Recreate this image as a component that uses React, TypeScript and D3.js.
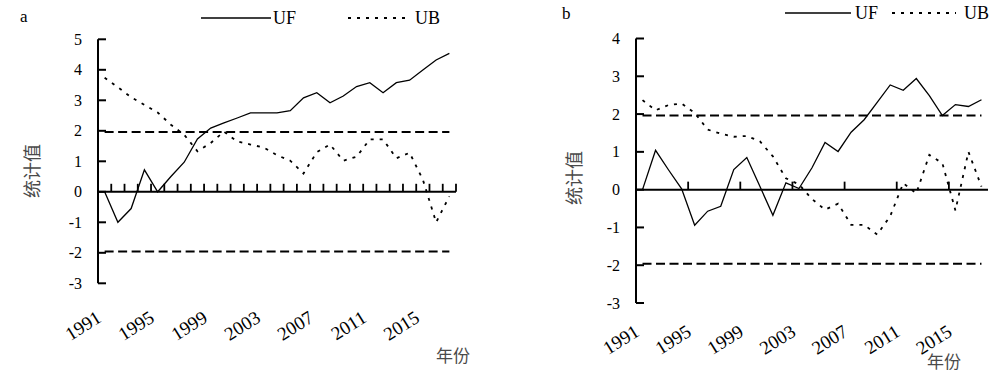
import React from "react";
import * as d3 from "d3";

const years = d3.range(1991, 2018).map(String);
const tickYears = ["1991", "1995", "1999", "2003", "2007", "2011", "2015"];

const ufA = [0, -1.0, -0.55, 0.72, 0, 0.5, 0.97, 1.73, 2.09, 2.26, 2.42, 2.59, 2.59, 2.59, 2.66, 3.08, 3.25, 2.92, 3.14, 3.45, 3.58, 3.25, 3.58, 3.66, 3.99, 4.32, 4.54];
const ubA = [3.74, 3.43, 3.1, 2.85, 2.6, 2.2, 1.87, 1.33, 1.6, 1.97, 1.65, 1.55, 1.45, 1.2, 1.02, 0.6, 1.3, 1.55, 1.02, 1.15, 1.72, 1.72, 1.1, 1.28, 0.4, -1.0, -0.15];

const ufB = [0, 1.04, 0.52, 0.02, -0.94, -0.57, -0.44, 0.53, 0.85, 0.09, -0.68, 0.18, 0.03, 0.58, 1.25, 1.01, 1.52, 1.85, 2.31, 2.77, 2.63, 2.94, 2.49, 1.96, 2.25, 2.2, 2.38];
const ubB = [2.37, 2.1, 2.24, 2.28, 2.03, 1.59, 1.48, 1.4, 1.42, 1.28, 0.88, 0.3, 0.14, -0.25, -0.53, -0.37, -0.93, -0.93, -1.19, -0.7, 0.17, -0.1, 0.92, 0.7, -0.55, 1.0, 0.08];

const critical = 1.96;
const yTicksA = [5, 4, 3, 2, 1, 0, -1, -2, -3];
const yTicksB = [4, 3, 2, 1, 0, -1, -2, -3];

const serif = "'Times New Roman', 'Liberation Serif', serif";
const cjk = "'Noto Sans CJK SC', sans-serif";

type PanelProps = {
  label: string;
  uf: number[];
  ub: number[];
  x0: number;
  x1: number;
  yTop: number;
  yBot: number;
  yMax: number;
  yMin: number;
  yTicks: number[];
  tickEvery: number;
  yearY: number;
  labelPos: [number, number];
  legend: { solid: [number, number]; uf: number; dot: [number, number]; ub: number; y: number };
  yTitle: [number, number];
  xTitle: [number, number];
};

function Panel(p: PanelProps) {
  const x = d3.scaleBand<string>().domain(years).range([p.x0, p.x1]).padding(0);
  const y = d3.scaleLinear().domain([p.yMin, p.yMax]).range([p.yBot, p.yTop]);
  const bw = x.bandwidth();
  const cx = (yr: string) => (x(yr) as number) + bw / 2;
  const line = d3
    .line<number>()
    .x((_, i) => cx(years[i]))
    .y((v) => y(v));
  const y0 = y(0);
  const boundaries = d3.range(1, years.length + 1).filter((k) => k % p.tickEvery === 0);
  const first = cx(years[0]);
  const last = cx(years[years.length - 1]);
  return (
    <g>
      <text x={p.labelPos[0]} y={p.labelPos[1]} fontFamily={serif} fontSize={17}>
        {p.label}
      </text>
      {/* legend */}
      <line x1={p.legend.solid[0]} x2={p.legend.solid[1]} y1={p.legend.y} y2={p.legend.y} stroke="#000" strokeWidth={1.4} />
      <text x={p.legend.uf} y={p.legend.y + 6} fontFamily={serif} fontSize={18}>UF</text>
      <line x1={p.legend.dot[0]} x2={p.legend.dot[1]} y1={p.legend.y} y2={p.legend.y} stroke="#000" strokeWidth={1.8} strokeDasharray="3,6" />
      <text x={p.legend.ub} y={p.legend.y + 6} fontFamily={serif} fontSize={18}>UB</text>

      {/* critical lines */}
      {[critical, -critical].map((c) => (
        <line key={c} x1={first} x2={last} y1={y(c)} y2={y(c)} stroke="#000" strokeWidth={2} strokeDasharray="9,4.5" />
      ))}

      {/* y axis */}
      <line x1={p.x0} x2={p.x0} y1={y(p.yMax)} y2={y(p.yMin)} stroke="#000" strokeWidth={2} />
      {p.yTicks.map((t) => (
        <g key={t}>
          <line x1={p.x0} x2={p.x0 + 8} y1={y(t)} y2={y(t)} stroke="#000" strokeWidth={2} />
          <text x={p.x0 - 16} y={y(t) + 5.5} textAnchor="end" fontFamily={serif} fontSize={16}>
            {t}
          </text>
        </g>
      ))}

      {/* x axis */}
      <line x1={p.x0} x2={p.x1} y1={y0} y2={y0} stroke="#000" strokeWidth={2} />
      {boundaries.map((k) => {
        const bx = p.x0 + k * bw;
        return <line key={k} x1={bx} x2={bx} y1={y0} y2={y0 - 8} stroke="#000" strokeWidth={1.8} />;
      })}
      {tickYears.map((yr) => (
        <text
          key={yr}
          transform={`translate(${cx(yr) - 2},${p.yearY}) rotate(-32)`}
          textAnchor="end"
          fontFamily={serif}
          fontSize={19}
        >
          {yr}
        </text>
      ))}

      {/* series */}
      <path d={line(p.uf) as string} fill="none" stroke="#000" strokeWidth={1.3} />
      <path d={line(p.ub) as string} fill="none" stroke="#000" strokeWidth={1.8} strokeDasharray="3,6" />

      {/* titles */}
      <text
        transform={`translate(${p.yTitle[0]},${p.yTitle[1]}) rotate(-90)`}
        textAnchor="middle"
        fontFamily={cjk}
        fontSize={18}
        fill="#4a4a4a"
      >
        统计值
      </text>
      <text x={p.xTitle[0]} y={p.xTitle[1]} textAnchor="middle" fontFamily={cjk} fontSize={17} fill="#4a4a4a">
        年份
      </text>
    </g>
  );
}

export default function App() {
  return (
    <svg width={999} height={384} style={{ position: "absolute", left: 0, top: 0, background: "#fff" }}>
      <rect width={999} height={384} fill="#fff" />
      <Panel
        label="a"
        uf={ufA}
        ub={ubA}
        x0={98}
        x1={456}
        yTop={39.3}
        yBot={283.3}
        yMax={5}
        yMin={-3}
        yTicks={yTicksA}
        tickEvery={1}
        yearY={321}
        labelPos={[20, 22]}
        legend={{ solid: [201, 271], uf: 273, dot: [348, 410], ub: 415, y: 18 }}
        yTitle={[39, 171]}
        xTitle={[453, 362]}
      />
      <Panel
        label="b"
        uf={ufB}
        ub={ubB}
        x0={636}
        x1={988}
        yTop={38.5}
        yBot={303}
        yMax={4}
        yMin={-3}
        yTicks={yTicksB}
        tickEvery={4}
        yearY={335}
        labelPos={[562, 19]}
        legend={{ solid: [785, 851], uf: 855, dot: [892, 956], ub: 964, y: 13 }}
        yTitle={[581, 178]}
        xTitle={[944, 368]}
      />
    </svg>
  );
}
